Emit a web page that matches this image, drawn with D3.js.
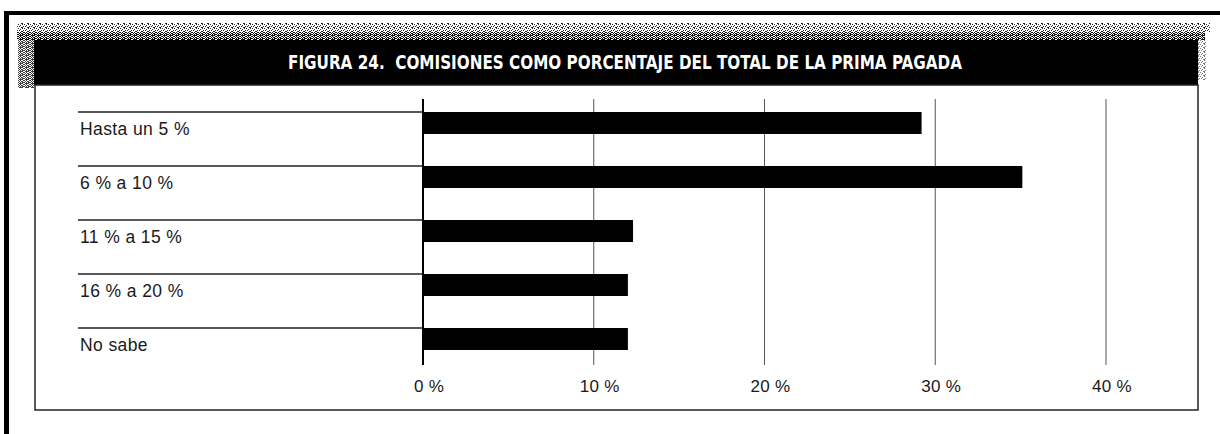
<!DOCTYPE html>
<html>
<head>
<meta charset="utf-8">
<script src="https://cdn.jsdelivr.net/npm/d3@7"></script>
<style>
  body { margin: 0; background: #fff; }
  text { font-family: "Liberation Sans", Arial, sans-serif; }
</style>
</head>
<body>
<div id="chart"></div>
<script>
// data
var categories = ["Hasta un 5 %", "6 % a 10 %", "11 % a 15 %", "16 % a 20 %", "No sabe"];
var values = [29.2, 35.1, 12.3, 12.0, 12.0];
var ticks = [0, 10, 20, 30, 40];
var tickLabels = ["0 %", "10 %", "20 %", "30 %", "40 %"];
var title = "FIGURA 24.  COMISIONES COMO PORCENTAJE DEL TOTAL DE LA PRIMA PAGADA";

var data = categories.map(function (c, i) { return { cat: c, value: values[i] }; });

var svgWidth = 1220;
var svgHeight = 434;

var svg = d3.select("#chart")
    .append("svg")
    .attr("width", svgWidth)
    .attr("height", svgHeight);

// dithered grey texture like the scanned page
var defs = svg.append("defs");
var p1 = defs.append("pattern").attr("id", "dither1")
    .attr("width", 6).attr("height", 4).attr("patternUnits", "userSpaceOnUse");
p1.append("rect").attr("width", 6).attr("height", 4).attr("fill", "#fff");
[[0, 0], [2, 1], [1, 2], [3, 3], [4, 0], [5, 2], [4, 3]].forEach(function (d) {
    p1.append("rect").attr("x", d[0]).attr("y", d[1]).attr("width", 1).attr("height", 1).attr("fill", "#222");
});
var p2 = defs.append("pattern").attr("id", "dither2")
    .attr("width", 6).attr("height", 4).attr("patternUnits", "userSpaceOnUse");
p2.append("rect").attr("width", 6).attr("height", 4).attr("fill", "#fff");
[[0, 0], [2, 0], [1, 1], [3, 1], [0, 2], [2, 2], [3, 3], [1, 3], [2, 3], [4, 1], [5, 0], [5, 2], [4, 3], [4, 2]].forEach(function (d) {
    p2.append("rect").attr("x", d[0]).attr("y", d[1]).attr("width", 1).attr("height", 1).attr("fill", "#111");
});

// outer frame (top and left only)
svg.append("rect").attr("x", 4).attr("y", 11).attr("width", 1216).attr("height", 4).attr("fill", "#000");
svg.append("rect").attr("x", 4).attr("y", 11).attr("width", 5).attr("height", 423).attr("fill", "#000");

// texture band above title
svg.append("rect").attr("x", 17).attr("y", 23).attr("width", 1193).attr("height", 9).attr("fill", "url(#dither1)");
svg.append("rect").attr("x", 17).attr("y", 32).attr("width", 1188).attr("height", 8).attr("fill", "url(#dither2)");
svg.append("rect").attr("x", 18).attr("y", 40).attr("width", 16).attr("height", 48).attr("fill", "url(#dither2)").attr("opacity", 0.8);
svg.append("rect").attr("x", 1198).attr("y", 40).attr("width", 8).attr("height", 40).attr("fill", "url(#dither1)").attr("opacity", 0.6);

// title bar
svg.append("rect").attr("x", 34).attr("y", 40).attr("width", 1164).attr("height", 45).attr("fill", "#000");
svg.append("text")
    .attr("x", 288)
    .attr("y", 69)
    .attr("textLength", 674)
    .attr("lengthAdjust", "spacingAndGlyphs")
    .style("white-space", "pre")
    .style("font-family", "'Liberation Sans Narrow', 'DejaVu Sans Condensed', sans-serif")
    .style("font-weight", "bold")
    .style("font-size", "20px")
    .attr("fill", "#fff")
    .text(title);

// chart box
svg.append("rect").attr("x", 35).attr("y", 85).attr("width", 1163).attr("height", 325)
    .attr("fill", "#fff").attr("stroke", "#222").attr("stroke-width", 1.5);

// scales
var xScale = d3.scaleLinear().domain([0, 40]).range([423, 1106]);
var yScale = d3.scaleBand().domain(categories).range([112, 382]).paddingInner(0);
var barH = 22;

// vertical grid lines
svg.selectAll(".grid")
    .data(ticks)
    .enter()
    .append("line")
    .attr("class", "grid")
    .attr("x1", d => xScale(d))
    .attr("x2", d => xScale(d))
    .attr("y1", 99)
    .attr("y2", 365)
    .attr("stroke", d => d === 0 ? "#000" : "#555")
    .attr("stroke-width", d => d === 0 ? 2 : 1);

// row separators
svg.selectAll(".sep")
    .data(categories)
    .enter()
    .append("line")
    .attr("class", "sep")
    .attr("x1", 78)
    .attr("x2", xScale(0))
    .attr("y1", d => yScale(d))
    .attr("y2", d => yScale(d))
    .attr("stroke", "#222")
    .attr("stroke-width", 1.5);

// bars
svg.selectAll(".bar")
    .data(data)
    .enter()
    .append("rect")
    .attr("class", "bar")
    .attr("x", xScale(0))
    .attr("y", d => yScale(d.cat))
    .attr("width", d => xScale(d.value) - xScale(0))
    .attr("height", barH)
    .attr("fill", "#000");

// category labels
svg.selectAll(".lab")
    .data(categories)
    .enter()
    .append("text")
    .attr("class", "lab")
    .attr("x", 80)
    .attr("y", d => yScale(d) + 23)
    .style("font-size", "17.5px")
    .style("letter-spacing", "0.4px")
    .attr("fill", "#1a1a1a")
    .text(d => d);

// tick labels
svg.selectAll(".tick-lab")
    .data(ticks)
    .enter()
    .append("text")
    .attr("class", "tick-lab")
    .attr("x", d => xScale(d) + 6)
    .attr("y", 392)
    .attr("text-anchor", "middle")
    .style("font-size", "17px")
    .style("letter-spacing", "0.3px")
    .attr("fill", "#1a1a1a")
    .text((d, i) => tickLabels[i]);
</script>
</body>
</html>
